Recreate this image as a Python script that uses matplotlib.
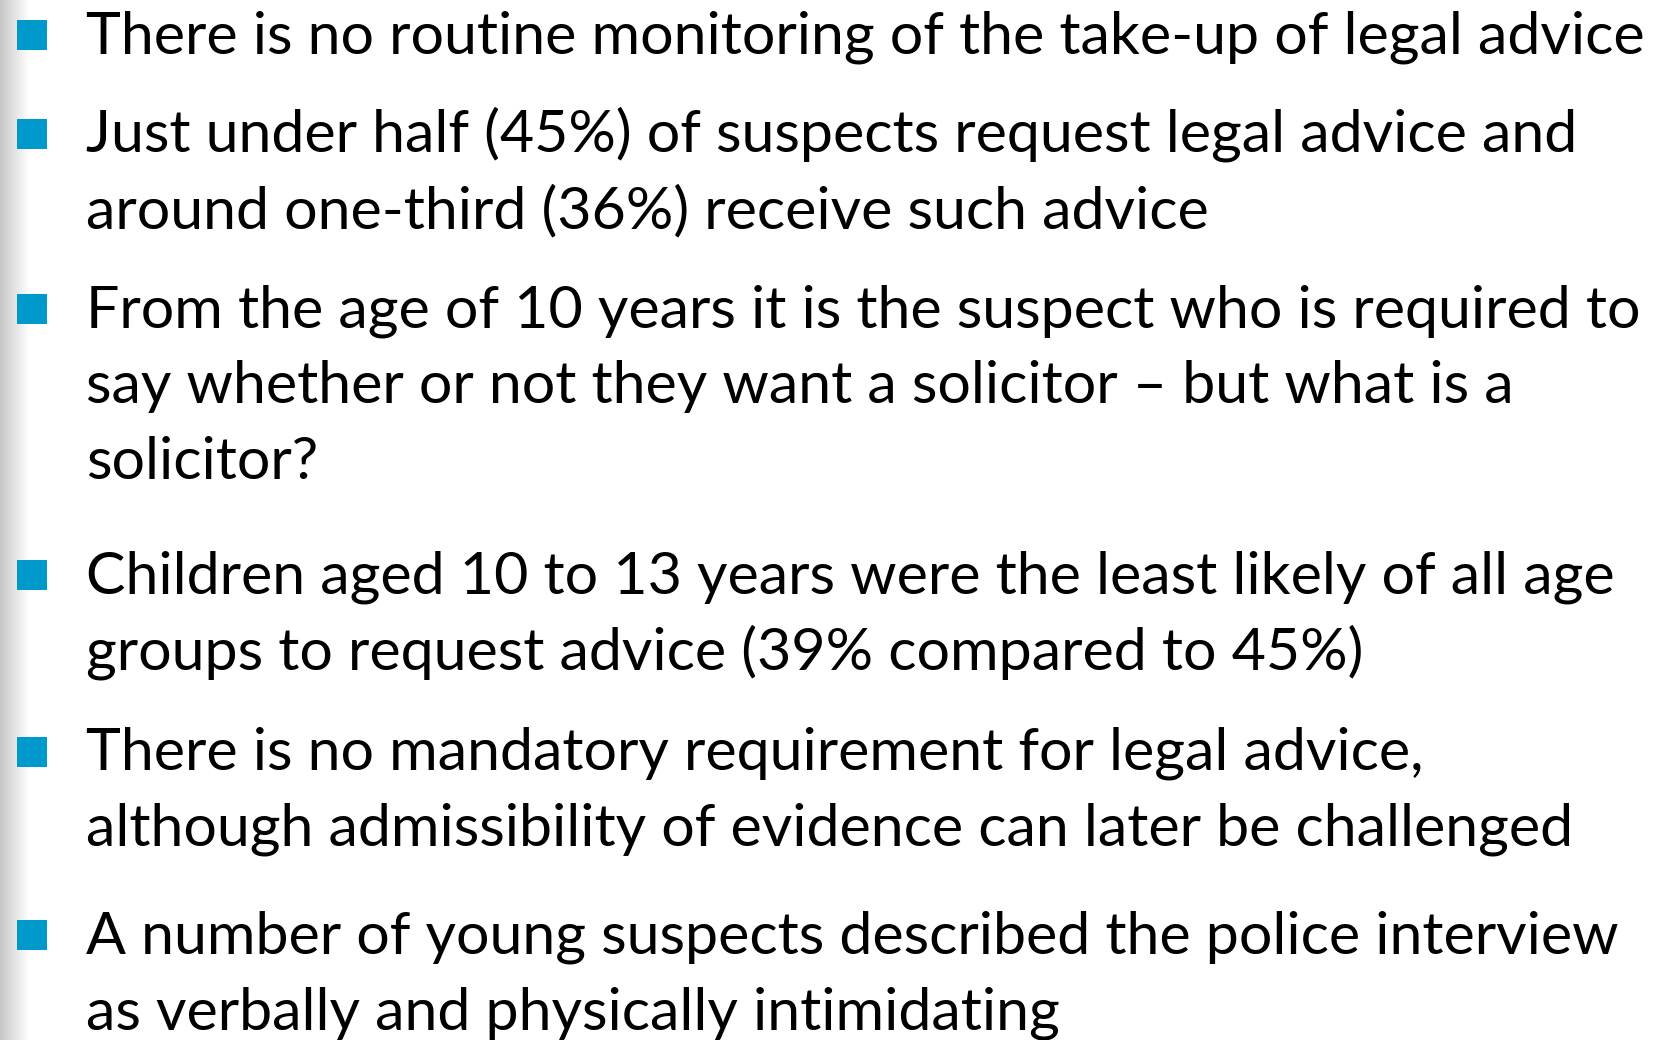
import numpy as np
import matplotlib.pyplot as plt

# Slide text: one list of lines per bullet point.
bullets = [
    ["There is no routine monitoring of the take-up of legal advice"],
    ["Just under half (45%) of suspects request legal advice and",
     "around one-third (36%) receive such advice"],
    ["From the age of 10 years it is the suspect who is required to",
     "say whether or not they want a solicitor \u2013 but what is a",
     "solicitor?"],
    ["Children aged 10 to 13 years were the least likely of all age",
     "groups to request advice (39% compared to 45%)"],
    ["There is no mandatory requirement for legal advice,",
     "although admissibility of evidence can later be challenged"],
    ["A number of young suspects described the police interview",
     "as verbally and physically intimidating"],
]
# Baseline (pixels from top) of the first line of each bullet.
first_baselines = [53, 152, 327, 593, 770, 953]
line_gap = 76

W, H = 1668, 1040
fig = plt.figure(figsize=(W / 100, H / 100), dpi=100)
ax = fig.add_axes([0, 0, 1, 1])
ax.set_xlim(0, W)
ax.set_ylim(H, 0)
ax.axis("off")

# grey shading along the left edge
grad = np.linspace(0.78, 1.0, 64)[None, :]
ax.imshow(grad, cmap="gray", vmin=0, vmax=1, extent=(0, 30, H, 0), aspect="auto")

blue = "#0099cc"
font = ["Lato", "DejaVu Sans"]
for lines, y0 in zip(bullets, first_baselines):
    ax.add_patch(plt.Rectangle((17, y0 - 33), 30, 30, color=blue, lw=0))
    for k, line in enumerate(lines):
        ax.text(86, y0 + k * line_gap, line, fontsize=42.6, family=font,
                va="baseline", ha="left", color="black")

fig.savefig("out.png", dpi=100)
